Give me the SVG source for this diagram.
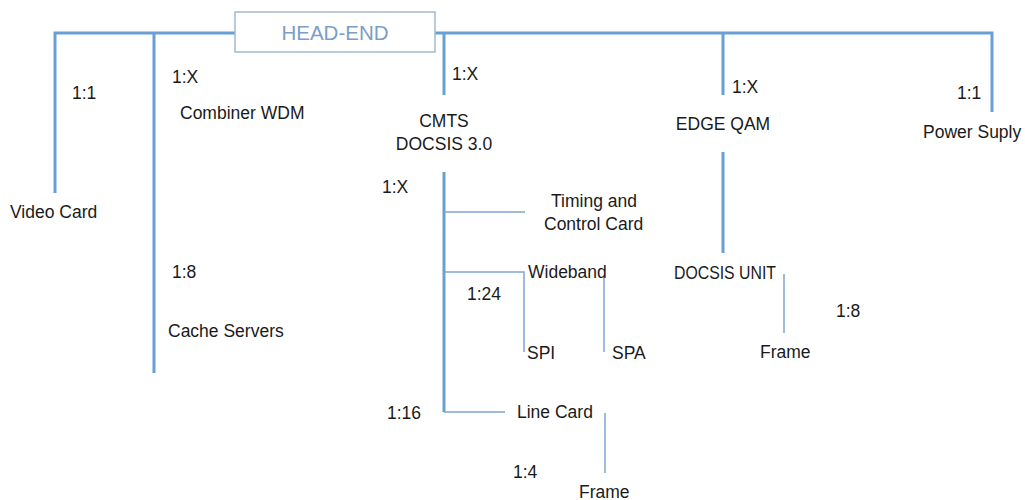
<svg xmlns="http://www.w3.org/2000/svg" width="1025" height="500" viewBox="0 0 1025 500">
<style>
.thick{stroke:#6a9fd4;stroke-width:3;fill:none}
.thin{stroke:#7ea7d2;stroke-width:1.5;fill:none}
text{font-family:"Liberation Sans",Arial,sans-serif;font-size:17.5px;fill:#1a1a1a}
.mid{text-anchor:middle}
.head{font-size:20.5px;fill:#7b9dc6;text-anchor:middle}
</style>
<rect width="1025" height="500" fill="#ffffff"/>
<g id="connectors">
<path class="thick" d="M55 193V33H992V112"/>
<path class="thick" d="M154 33V373"/>
<path class="thick" d="M444 33V95"/>
<path class="thick" d="M444 172V412"/>
<path class="thick" d="M723 33V95"/>
<path class="thick" d="M723 152V253"/>
<path class="thin" d="M444 212H525"/>
<path class="thin" d="M444 272H524V352"/>
<path class="thin" d="M604 277V352"/>
<path class="thin" d="M444 412H505"/>
<path class="thin" d="M605 413V473"/>
<path class="thin" d="M784 274V333"/>
</g>
<g id="head-end">
<rect x="235" y="12" width="200" height="40" fill="#ffffff" stroke="#a3b9d3" stroke-width="1.5"/>
<text class="head" x="335" y="40">HEAD-END</text>
</g>
<g id="video-card">
<text x="72" y="99">1:1</text>
<text x="10" y="218">Video Card</text>
</g>
<g id="combiner-wdm">
<text x="172" y="83">1:X</text>
<text x="180" y="119">Combiner WDM</text>
</g>
<g id="cache-servers">
<text x="172" y="278">1:8</text>
<text x="168" y="337">Cache Servers</text>
</g>
<g id="cmts">
<text x="452" y="80">1:X</text>
<text class="mid" x="444" y="127">CMTS</text>
<text class="mid" x="444" y="150">DOCSIS 3.0</text>
<text x="382" y="193">1:X</text>
</g>
<g id="timing-control">
<text x="551" y="207">Timing and</text>
<text x="544" y="230">Control Card</text>
</g>
<g id="wideband">
<text x="528" y="278">Wideband</text>
<text x="467" y="300">1:24</text>
</g>
<g id="spi"><text x="527" y="359">SPI</text></g>
<g id="spa"><text x="612" y="359">SPA</text></g>
<g id="line-card">
<text x="387" y="419">1:16</text>
<text x="517" y="418">Line Card</text>
<text x="513" y="478">1:4</text>
</g>
<g id="frame-line"><text x="579" y="498">Frame</text></g>
<g id="edge-qam">
<text x="732" y="93">1:X</text>
<text class="mid" x="723" y="130">EDGE QAM</text>
</g>
<g id="docsis-unit">
<text x="674" y="279" textLength="102" lengthAdjust="spacingAndGlyphs">DOCSIS UNIT</text>
<text x="836" y="317">1:8</text>
</g>
<g id="frame-docsis"><text x="760" y="358">Frame</text></g>
<g id="power-supply">
<text x="957" y="99">1:1</text>
<text x="923" y="138">Power Suply</text>
</g>
</svg>
